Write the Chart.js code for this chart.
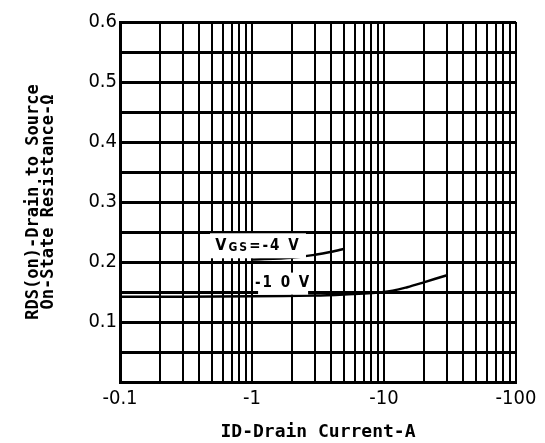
<!DOCTYPE html>
<html>
<head>
<meta charset="utf-8">
<script src="https://cdn.jsdelivr.net/npm/chart.js@4"></script>
<style>
  html, body { margin: 0; padding: 0; background: #fff; }
  canvas { display: block; }
</style>
</head>
<body>
<canvas id="rdsChart" width="545" height="443"></canvas>
<script>
// drain current (A, shown as negative on axis) and on-resistance (ohm)
const vgs4Current = [1, 2, 3, 4, 5];
const vgs4Rds = [0.204, 0.207, 0.212, 0.217, 0.222];
const vgs10Current = [0.1, 0.3, 1, 3, 5, 10, 15, 20, 30];
const vgs10Rds = [0.142, 0.142, 0.143, 0.144, 0.146, 0.150, 0.158, 0.166, 0.178];

// grid / tick positions
const currentTicks = [0.1, 0.2, 0.3, 0.4, 0.5, 0.6, 0.7, 0.8, 0.9,
                      1, 2, 3, 4, 5, 6, 7, 8, 9,
                      10, 20, 30, 40, 50, 60, 70, 80, 90, 100];
const decadeTicks = [0.1, 1, 10, 100];
const decadeLabels = ['-0.1', '-1', '-10', '-100'];
const rdsTickLabels = ['0.1', '0.2', '0.3', '0.4', '0.5', '0.6'];

const toPoints = (xs, ys) => xs.map((x, i) => ({ x: x, y: ys[i] }));

// curve labels with white box behind them (like the datasheet)
const curveLabels = {
    id: 'curveLabels',
    afterDatasetsDraw(chart) {
        const ctx = chart.ctx;
        const xs = chart.scales.x, ys = chart.scales.y;
        const items = [
            { x: 1.11, y: 0.227, w: 96, h: 25, parts: [['V', 16, 0], ['GS', 12, 2], ['=-4 V', 15, 0]] },
            { x: 1.72, y: 0.164, w: 50, h: 22, parts: [['-1 0 V', 15, 0]] }
        ];
        ctx.save();
        items.forEach(it => {
            const cx = xs.getPixelForValue(it.x);
            const cy = ys.getPixelForValue(it.y);
            ctx.fillStyle = '#fff';
            ctx.fillRect(cx - it.w / 2, cy - it.h / 2, it.w, it.h);
            ctx.fillStyle = '#000';
            ctx.textBaseline = 'middle';
            ctx.textAlign = 'left';
            ctx.letterSpacing = '2px';
            let total = 0;
            it.parts.forEach(p => {
                ctx.font = 'bold ' + p[1] + 'px "DejaVu Sans Condensed"';
                total += ctx.measureText(p[0]).width;
            });
            let px = cx - total / 2;
            it.parts.forEach(p => {
                ctx.font = 'bold ' + p[1] + 'px "DejaVu Sans Condensed"';
                ctx.fillText(p[0], px, cy + p[2]);
                px += ctx.measureText(p[0]).width;
            });
        });
        ctx.restore();
    }
};

const config = {
    type: 'line',
    data: {
        datasets: [{
            label: 'VGS=-4V',
            data: toPoints(vgs4Current, vgs4Rds),
            borderColor: '#000',
            borderWidth: 2.5,
            pointRadius: 0,
            tension: 0.3,
            fill: false
        }, {
            label: 'VGS=-10V',
            data: toPoints(vgs10Current, vgs10Rds),
            borderColor: '#000',
            borderWidth: 2.5,
            pointRadius: 0,
            tension: 0.3,
            fill: false
        }]
    },
    options: {
        responsive: false,
        animation: false,
        layout: { padding: { top: 22, right: 29, left: 0, bottom: 0 } },
        plugins: {
            legend: { display: false },
            tooltip: { enabled: false }
        },
        scales: {
            x: {
                type: 'logarithmic',
                min: 0.1,
                max: 100,
                afterBuildTicks: scale => {
                    scale.ticks = currentTicks.map(v => ({ value: v }));
                },
                afterFit: scale => { scale.height = 61; },
                grid: { color: '#000', lineWidth: 2, drawTicks: false },
                border: { color: '#000', width: 3 },
                ticks: {
                    autoSkip: false,
                    maxRotation: 0,
                    padding: 5,
                    color: '#000',
                    font: { family: '"DejaVu Sans Condensed"', size: 20 },
                    callback: value => {
                        const i = decadeTicks.findIndex(d => Math.abs(d - value) < 1e-9);
                        return i >= 0 ? decadeLabels[i] : '';
                    }
                },
                title: {
                    display: true,
                    text: 'ID-Drain Current-A',
                    color: '#000',
                    font: { family: '"DejaVu Sans Mono"', size: 18, weight: 'bold' },
                    padding: { top: 0, bottom: 0 }
                }
            },
            y: {
                min: 0,
                max: 0.6,
                afterFit: scale => { scale.width = 120; },
                grid: { color: '#000', lineWidth: 3, drawTicks: false },
                border: { color: '#000', width: 3 },
                ticks: {
                    stepSize: 0.05,
                    padding: 3,
                    color: '#000',
                    font: { family: '"DejaVu Sans Condensed"', size: 20 },
                    callback: value => {
                        const k = Math.round(value * 20);
                        return (k > 0 && k % 2 === 0) ? rdsTickLabels[k / 2 - 1] : '';
                    }
                },
                title: {
                    display: true,
                    text: ['RDS(on)-Drain to Source', 'On-State Resistance-Ω'],
                    color: '#000',
                    font: { family: '"DejaVu Sans Mono"', size: 17, weight: 'bold', lineHeight: 0.9 },
                    padding: { top: 26, bottom: 0 }
                }
            }
        }
    },
    plugins: [curveLabels]
};

const ctx = document.getElementById('rdsChart').getContext('2d');
const rdsChart = new Chart(ctx, config);
</script>
</body>
</html>
